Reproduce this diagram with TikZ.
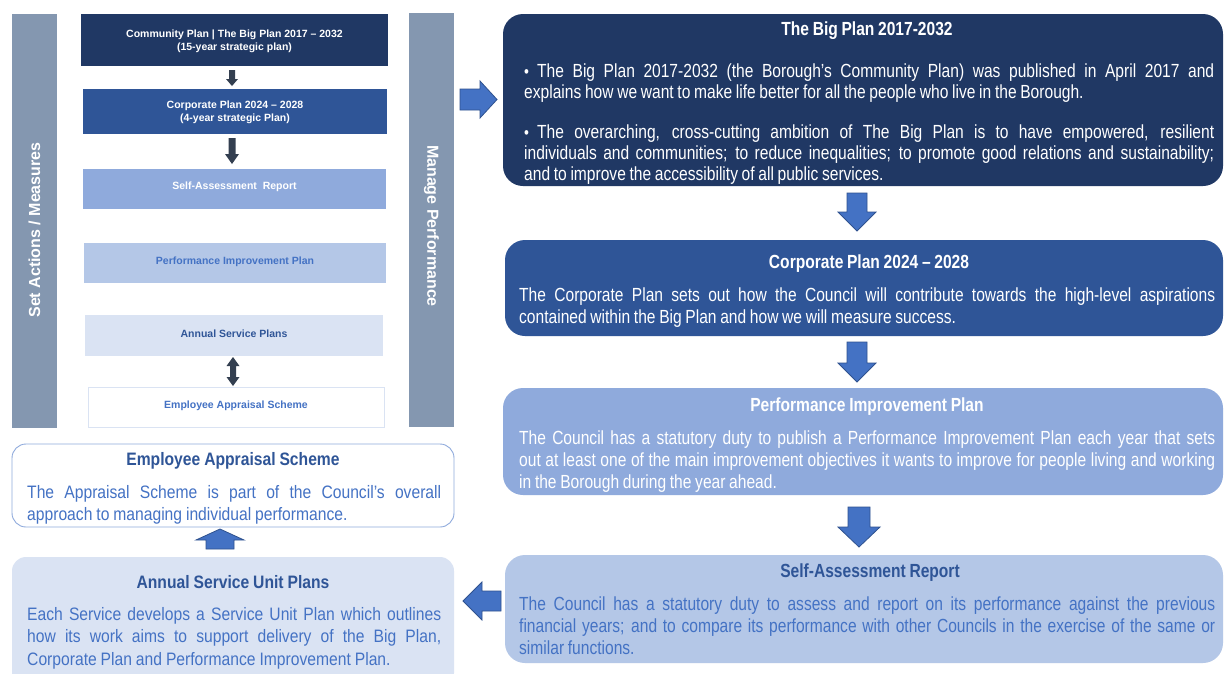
\documentclass[tikz,border=0pt]{standalone}
\usepackage{fontspec}
\setmainfont{Liberation Sans}
\newfontfamily\narrowr[FakeStretch=0.82,WordSpace=0.85]{Liberation Sans}
\newfontfamily\narrowl[FakeStretch=0.87,WordSpace=0.9]{Liberation Sans}
\usetikzlibrary{calc}
\definecolor{navy}{HTML}{203864}
\definecolor{corpblue}{HTML}{2F5597}
\definecolor{midblue}{HTML}{8FAADC}
\definecolor{lightblue}{HTML}{B4C7E7}
\definecolor{paleblue}{HTML}{DAE3F3}
\definecolor{barcol}{HTML}{8497B0}
\definecolor{arrowfill}{HTML}{4472C4}
\definecolor{arrowline}{HTML}{2F528F}
\definecolor{darkarrow}{HTML}{333F50}
\definecolor{textblue}{HTML}{4472C4}
\definecolor{titleblue}{HTML}{2F5597}
\definecolor{lineblue}{HTML}{8FAADC}
\tikzset{
  box/.style={anchor=north west, inner sep=0pt, outer sep=0pt},
  sbox/.style={box, font=\bfseries\fontsize{10.5}{13}\selectfont, align=center},
  stext/.style={font=\bfseries\fontsize{10.5}{13}\selectfont, align=center, inner sep=0pt},
  rbox/.style={box, rounded corners=20pt},
  lbox/.style={box, rounded corners=14pt},
  rbody/.style={anchor=north west, inner sep=0pt, text width=696pt, align=justify,
    font=\narrowr\fontsize{19}{22}\selectfont},
  lbody/.style={anchor=north west, inner sep=0pt, text width=414pt, align=justify,
    font=\narrowl\fontsize{18}{22.5}\selectfont},
  bullpar/.style={anchor=north west, inner sep=0pt, text width=690pt, align=justify, text=white,
    font=\narrowr\fontsize{19}{21}\selectfont},
  rtitle/.style={inner sep=0pt, font=\narrowr\bfseries\fontsize{19}{22}\selectfont},
  ltitle/.style={inner sep=0pt, font=\narrowl\bfseries\fontsize{18}{22}\selectfont},
  bartext/.style={inner sep=0pt, text=white, font=\bfseries\fontsize{16}{18}\selectfont},
  bluearrow/.style={fill=arrowfill, draw=arrowline, line width=0.8pt, line join=miter},
  darrow/.style={fill=darkarrow},
  pics/blockarrow/.style n args={4}{code={
    \path[pic actions] (-#1/2,-#3/2) -- (#1/2-#4,-#3/2) -- (#1/2-#4,-#2/2) -- (#1/2,0)
      -- (#1/2-#4,#2/2) -- (#1/2-#4,#3/2) -- (-#1/2,#3/2) -- cycle;}},
  pics/twoway/.style n args={4}{code={
    \path[pic actions] (-#1/2,0) -- (-#1/2+#4,-#2/2) -- (-#1/2+#4,-#3/2) -- (#1/2-#4,-#3/2)
      -- (#1/2-#4,-#2/2) -- (#1/2,0) -- (#1/2-#4,#2/2) -- (#1/2-#4,#3/2)
      -- (-#1/2+#4,#3/2) -- (-#1/2+#4,#2/2) -- cycle;}}
}
\newcommand\bul{\makebox[13pt][l]{\fontsize{17}{17}\selectfont\raisebox{0.5pt}{•}}}
\begin{document}
\begin{tikzpicture}[x=1pt,y=-1pt]
\useasboundingbox (0,0) rectangle (1224,673);
\fill[white] (0,0) rectangle (1224,673);

% side bars
\node[box, fill=barcol, minimum width=45pt, minimum height=414pt] (setbar) at (12,14) {};
\node[bartext, rotate=90] (settxt) at (34.5,230) {Set Actions / Measures};
\node[box, fill=barcol, minimum width=45pt, minimum height=414pt] (manbar) at (409,13) {};
\node[bartext, rotate=-90] (mantxt) at (431.5,226) {Manage Performance};

% left stack
\node[sbox, fill=navy, minimum width=307pt, minimum height=52pt] (s1) at (81,14) {};
\node[stext, text=white] (s1t) at ([yshift=-1pt]s1.center) {Community Plan | The Big Plan 2017 – 2032\\(15-year strategic plan)};
\node[sbox, fill=corpblue, minimum width=304pt, minimum height=45pt] (s2) at (83,89) {};
\node[stext, text=white] (s2t) at ([yshift=-1pt]s2.center) {Corporate Plan 2024 – 2028\\(4-year strategic Plan)};
\node[sbox, fill=midblue, minimum width=303pt, minimum height=40pt] (s3) at (83,169) {};
\node[stext, text=white] (s3t) at ([yshift=2pt]s3.center) {Self-Assessment\ \ Report};
\node[sbox, fill=lightblue, minimum width=302pt, minimum height=40pt] (s4) at (84,243) {};
\node[stext, text=textblue] (s4t) at ([yshift=1pt]s4.center) {Performance Improvement Plan};
\node[sbox, fill=paleblue, minimum width=298pt, minimum height=41pt] (s5) at (85,315) {};
\node[stext, text=titleblue] (s5t) at ([yshift=2pt]s5.center) {Annual Service Plans};
\node[sbox, fill=white, draw=paleblue, line width=0.8pt, minimum width=296pt, minimum height=40pt] (s6) at (88,387) {};
\node[stext, text=textblue] (s6t) at ([yshift=1pt]s6.center) {Employee Appraisal Scheme};

\pic[darrow, rotate=-90] at (232,78) {blockarrow={16}{12}{6}{7}};
\pic[darrow, rotate=-90] at (232,151) {blockarrow={26}{14}{7}{10}};
\pic[darrow, rotate=-90] at (233,371.5) {twoway={29}{13}{6}{9}};

% right column
\node[rbox, fill=navy, minimum width=720pt, minimum height=172pt] (big) at (503,14) {};
\node[rtitle, text=white] (bigt) at (867,31) {The Big Plan 2017-2032};
\node[bullpar] (bigb1) at (524,64)
  {\hangindent=13pt\hangafter=1\bul The Big Plan 2017-2032 (the Borough’s Community Plan) was published in April 2017 and\linebreak explains how we want to make life better for all the people who live in the Borough.};
\node[bullpar] (bigb2) at (524,125)
  {\hangindent=13pt\hangafter=1\bul The overarching, cross-cutting ambition of The Big Plan is to have empowered, resilient\linebreak individuals and communities; to reduce inequalities; to promote good relations and sustainability;\linebreak and to improve the accessibility of all public services.};

\node[rbox, fill=corpblue, minimum width=718pt, minimum height=96pt] (corp) at (505,240) {};
\node[rtitle, text=white] (corpt) at (869,264) {Corporate Plan 2024 – 2028};
\node[rbody, text=white] (corpb) at (519,288) {The Corporate Plan sets out how the Council will contribute towards the high-level aspirations\linebreak contained within the Big Plan and how we will measure success.};

\node[rbox, fill=midblue, minimum width=720pt, minimum height=107pt] (pip) at (503,388) {};
\node[rtitle, text=white] (pipt) at (867,407) {Performance Improvement Plan};
\node[rbody, text=white] (pipb) at (519,431) {The Council has a statutory duty to publish a Performance Improvement Plan each year that sets\linebreak out at least one of the main improvement objectives it wants to improve for people living and working\linebreak in the Borough during the year ahead.};

\node[rbox, fill=lightblue, minimum width=718pt, minimum height=108pt] (sar) at (505,555) {};
\node[rtitle, text=titleblue] (sart) at (870,573) {Self-Assessment Report};
\node[rbody, text=textblue] (sarb) at (519,597) {The Council has a statutory duty to assess and report on its performance against the previous\linebreak financial years; and to compare its performance with other Councils in the exercise of the same or\linebreak similar functions.};

% left bottom
\node[lbox, fill=white, draw=lineblue, line width=0.9pt, minimum width=442pt, minimum height=83pt] (eas) at (12,444) {};
\node[ltitle, text=titleblue] (east) at (233,461) {Employee Appraisal Scheme};
\node[lbody, text=textblue] (easb) at (27,485) {The Appraisal Scheme is part of the Council’s overall\linebreak approach to managing individual performance.};

\node[lbox, fill=paleblue, minimum width=442pt, minimum height=130pt] (asp) at (12,557) {};
\node[ltitle, text=titleblue] (aspt) at (233,582) {Annual Service Unit Plans};
\node[lbody, text=textblue] (aspb) at (27,607) {Each Service develops a Service Unit Plan which outlines\linebreak how its work aims to support delivery of the Big Plan,\linebreak Corporate Plan and Performance Improvement Plan.};

% block arrows
\pic[bluearrow] at (478.5,99.5) {blockarrow={37}{37}{21}{17}};
\pic[bluearrow, rotate=-90] at (857,212) {blockarrow={38}{38}{20}{19}};
\pic[bluearrow, rotate=-90] at (857,362) {blockarrow={40}{38}{20}{19}};
\pic[bluearrow, rotate=-90] at (859,527) {blockarrow={40}{42}{22}{20}};
\pic[bluearrow, rotate=180] at (482,601) {blockarrow={38}{38}{20}{19}};
\pic[bluearrow, rotate=90] at (220,539) {blockarrow={20}{48}{28}{11}};
\end{tikzpicture}
\end{document}
